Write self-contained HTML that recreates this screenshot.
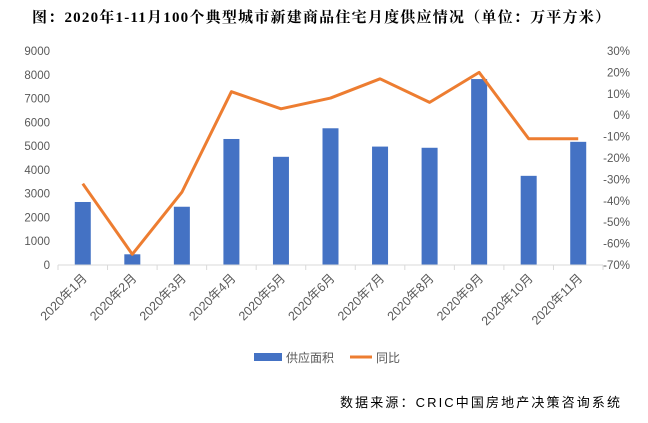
<!DOCTYPE html>
<html><head><meta charset="utf-8"><style>
body{margin:0;background:#fff;width:648px;height:418px;overflow:hidden;font-family:"Liberation Sans","Noto Sans CJK SC",sans-serif}
</style></head><body>
<svg width="648" height="418" id="c" font-family="Liberation Sans, Noto Sans CJK SC, sans-serif">
<text x="32" y="22" font-size="15" font-weight="bold" fill="#000" textLength="578" lengthAdjust="spacing" font-family="Liberation Serif, Noto Serif CJK SC, serif">图：2020年1-11月100个典型城市新建商品住宅月度供应情况（单位：万平方米）</text>
<g id="plot"></g>
<g>
<rect x="254" y="353" width="28" height="8" fill="#4472c4"/>
<text x="286" y="362" font-size="12" fill="#595959">供应面积</text>
<line x1="350" y1="357" x2="372" y2="357" stroke="#ed7d31" stroke-width="3"/>
<text x="376" y="362" font-size="12" fill="#595959">同比</text>
</g>
<text x="340" y="407" font-size="13" fill="#000" textLength="280" lengthAdjust="spacing">数据来源：CRIC中国房地产决策咨询系统</text>
</svg>
<script>
const categories=["2020年1月","2020年2月","2020年3月","2020年4月","2020年5月","2020年6月","2020年7月","2020年8月","2020年9月","2020年10月","2020年11月"];
const supplyValues=[2650,450,2450,5300,4550,5750,4980,4930,7820,3750,5180];
const yoyValues=[-32,-65,-36,11,3,8,17,6,20,-11,-11];
const leftTicks=[0,1000,2000,3000,4000,5000,6000,7000,8000,9000];
const rightTicks=[-70,-60,-50,-40,-30,-20,-10,0,10,20,30];
const NS="http://www.w3.org/2000/svg";
const g=document.getElementById('plot');
const X0=58,X1=603,Y0=265,Y1=51;
const bw=(X1-X0)/categories.length;
const yL=v=>Y0-(v-0)/9000*(Y0-Y1);
const yR=v=>Y0-(v+70)/100*(Y0-Y1);
const xC=i=>X0+bw*(i+0.5);
function mk(t,a){const e=document.createElementNS(NS,t);for(const k in a)e.setAttribute(k,a[k]);g.appendChild(e);return e;}
leftTicks.forEach(v=>{const t=mk('text',{x:X0-8,y:yL(v)+4,'text-anchor':'end','font-size':11.5,fill:'#595959'});t.textContent=v;

});
rightTicks.forEach(v=>{const t=mk('text',{x:630,y:yR(v)+4,'text-anchor':'end','font-size':11.5,fill:'#595959'});t.textContent=v+'%';

});
supplyValues.forEach((v,i)=>{const r=mk('rect',{x:xC(i)-8,y:yL(v),width:16,height:Y0-yL(v),fill:'#4472c4'});

});
const ax=mk('line',{x1:X0,y1:Y0,x2:X1,y2:Y0,stroke:'#d9d9d9','stroke-width':1});


for(let i=0;i<=categories.length;i++){const tk=mk('line',{x1:X0+bw*i,y1:Y0,x2:X0+bw*i,y2:Y0+5,stroke:'#d9d9d9'});

}
const pl=mk('polyline',{points:yoyValues.map((v,i)=>xC(i)+','+yR(v)).join(' '),fill:'none',stroke:'#ed7d31','stroke-width':3,'stroke-linejoin':'round'});


categories.forEach((c,i)=>{const x=xC(i)+5,y=Y0+14;const t=mk('text',{x:x,y:y,'text-anchor':'end','font-size':12.5,fill:'#595959',transform:`rotate(-45 ${x} ${y})`});t.textContent=c;

});
</script>
</body></html>
